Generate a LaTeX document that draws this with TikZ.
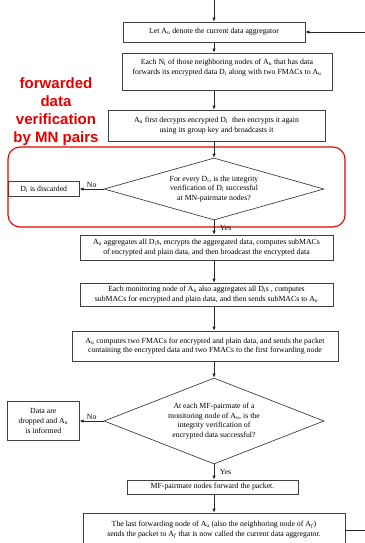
\documentclass[tikz,border=0pt]{standalone}
\usepackage{fontspec}
\setmainfont{Liberation Serif}
\newfontfamily\tagfont{Liberation Sans}
\usetikzlibrary{arrows.meta, positioning, shapes.geometric}
\tikzset{
  >={Latex[length=4pt,width=3.4pt]},
  every node/.style={font=\fontsize{7.8}{9.6}\selectfont},
  box/.style={draw=black!75, line width=0.7pt, align=center, inner sep=1pt},
  decision/.style={diamond, draw=black!75, line width=0.7pt, align=center, inner sep=0pt},
  flow/.style={->, draw=black!85, line width=0.7pt},
  answer/.style={font=\fontsize{7.8}{9}\selectfont, inner sep=1.5pt},
  redframe/.style={draw=red!90!black, line width=1.1pt, rounded corners=12pt}
}
\newcommand\Au{A\textsubscript{u}}
\newcommand\Di{D\textsubscript{i}}
\newcommand\Af{A\textsubscript{\textit{f}}}

\begin{document}
\begin{tikzpicture}[x=1pt,y=-1pt]
  \useasboundingbox (0,0) rectangle (364,543);
  \coordinate (start) at (214,0);
  \coordinate (rim) at (365,0);

  % main column
  \node[box, minimum width=182pt, minimum height=20pt] (current) at (214,32)
    {Let \Au{} denote the current data aggregator};
  \node[box, minimum width=210pt, minimum height=37pt] (gather) at (227,71.5)
    {Each N\textsubscript{i} of those neighboring nodes of \Au{} that has data\\
     forwards its encrypted data \Di{} along with two FMACs to \Au\\ \mbox{}};
  \node[box, minimum width=217pt, minimum height=31pt] (rebroad) at (216.5,125.5)
    {\Au{} first decrypts encrypted \Di{}\ \ then encrypts it again\\
     using its group key and broadcasts it};
  \node[decision, aspect=3.5, minimum width=220pt, minimum height=62pt] (mncheck) at (214,189)
    {For every \Di, is the integrity\\
     verification of \Di{} successful\\
     at MN-pairmate nodes?};
  \node[box, minimum width=71pt, minimum height=15pt, left=24pt of mncheck] (discard)
    {\Di{} is discarded};
  \node[box, minimum width=253pt, minimum height=25pt] (aggregate) at (206.5,247.5)
    {\Au{} aggregates all \Di s, encrypts the aggregated data, computes subMACs\\
     of encrypted and plain data, and then broadcast the encrypted data};
  \node[box, minimum width=253pt, minimum height=23pt] (monitor) at (206.5,294.5)
    {Each monitoring node of \Au{} also aggregates all \Di s , computes\\
     subMACs for encrypted and plain data, and then sends subMACs to \Au};
  \node[box, minimum width=266pt, minimum height=30pt] (fmacs) at (205,346)
    {\Au{} computes two FMACs for encrypted and plain data, and sends the packet\\
     containing the encrypted data and two FMACs to the first forwarding node};
  \node[decision, aspect=2.55, minimum width=220pt, minimum height=86pt] (mfcheck) at (214,421)
    {At each MF-pairmate of a\\
     monitoring node of \Au, is the\\
     integrity verification of\\
     encrypted data successful?};
  \node[box, minimum width=72pt, minimum height=39pt, left=24pt of mfcheck] (dropped)
    {Data are\\ dropped and \Au\\ is informed};
  \node[box, minimum width=171pt, minimum height=14pt] (forward) at (212.5,487)
    {MF-pairmate nodes forward the packet.};
  \node[box, minimum width=262pt, minimum height=34pt] (handover) at (214,530)
    {The last forwarding node of \Au{} (also the neighboring node of \Af)\\
     sends the packet to \Af{} that is now called the current data aggregator.};

  % red frame and its caption
  \draw[redframe] (8,147) rectangle (345,227);
  \node[font=\tagfont\bfseries\fontsize{15}{18}\selectfont, text=red!90!black, align=center]
    (mnpairs) at (56,112) {forwarded\\data\\verification\\by MN pairs};

  % connectors
  \draw[flow] (start) -- (current.north -| start);
  \draw[flow] (current.south -| start) -- (gather.north -| start);
  \draw[flow] (gather.south -| start) -- (rebroad.north -| start);
  \draw[flow] (rebroad.south -| start) -- (mncheck.north);
  \draw[flow] (mncheck.west) -- node[above, answer] {No} (discard.east);
  \draw[flow] (mncheck.south) -- node[right=4pt, answer] {Yes} (aggregate.north -| start);
  \draw[flow] (aggregate.south -| start) -- (monitor.north -| start);
  \draw[flow] (monitor.south -| start) -- (fmacs.north -| start);
  \draw[flow] (fmacs.south -| start) -- (mfcheck.north);
  \draw[flow] (mfcheck.west) -- node[above, answer] {No} (dropped.east);
  \draw[flow] (mfcheck.south) -- node[right=4pt, answer] {Yes} (forward.north -| start);
  \draw[flow] (forward.south -| start) -- (handover.north -| start);
  \draw[flow] (handover.east) -- (handover.east -| rim) -- (current.east -| rim) -- (current.east);
\end{tikzpicture}
\end{document}
